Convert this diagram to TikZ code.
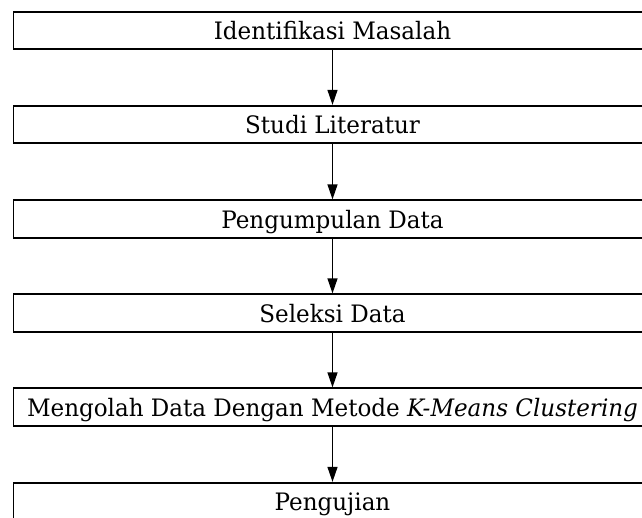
\documentclass[tikz,border=0pt]{standalone}
\usepackage{fontspec}
\setmainfont{DejaVu Serif}[FakeStretch=0.96]
\usetikzlibrary{arrows.meta}
\begin{document}
\begin{tikzpicture}[x=1pt,y=-1pt,
  stagebox/.style={draw=black,line width=1.8pt,minimum width=720pt,minimum height=37.5pt,
    inner sep=0pt,anchor=west},
  stagetext/.style={font=\fontsize{24}{28}\selectfont,inner sep=0pt,anchor=base},
  flow/.style={draw=black,line width=1.3pt,-{Triangle[length=15pt,width=10pt]}}]
\useasboundingbox (0,0) rectangle (642,517);
\clip (0,0) rectangle (642,517);
% step boxes (they run on past the right edge)
\node[stagebox] (b1) at (12.5,30.5) {};
\node[stagebox] (b2) at (12.5,124.5) {};
\node[stagebox] (b3) at (12.5,219) {};
\node[stagebox] (b4) at (12.5,313) {};
\node[stagebox] (b5) at (12.5,407) {};
\node[stagebox] (b6) at (12.5,501.5) {};
% step labels
\node[stagetext] (t1) at (332.5,39.5) {Identifikasi Masalah};
\node[stagetext] (t2) at (332.5,133.5) {Studi Literatur};
\node[stagetext] (t3) at (332.5,228) {Pengumpulan Data};
\node[stagetext] (t4) at (332.5,322) {Seleksi Data};
\node[stagetext] (t5) at (332.5,416) {Mengolah Data Dengan Metode \textit{K-Means Clustering}};
\node[stagetext] (t6) at (332.5,510.5) {Pengujian};
% connectors
\coordinate (ax) at (332.5,0);
\draw[flow] (ax |- b1.south) -- (ax |- b2.north);
\draw[flow] (ax |- b2.south) -- (ax |- b3.north);
\draw[flow] (ax |- b3.south) -- (ax |- b4.north);
\draw[flow] (ax |- b4.south) -- (ax |- b5.north);
\draw[flow] (ax |- b5.south) -- (ax |- b6.north);
\end{tikzpicture}
\end{document}
